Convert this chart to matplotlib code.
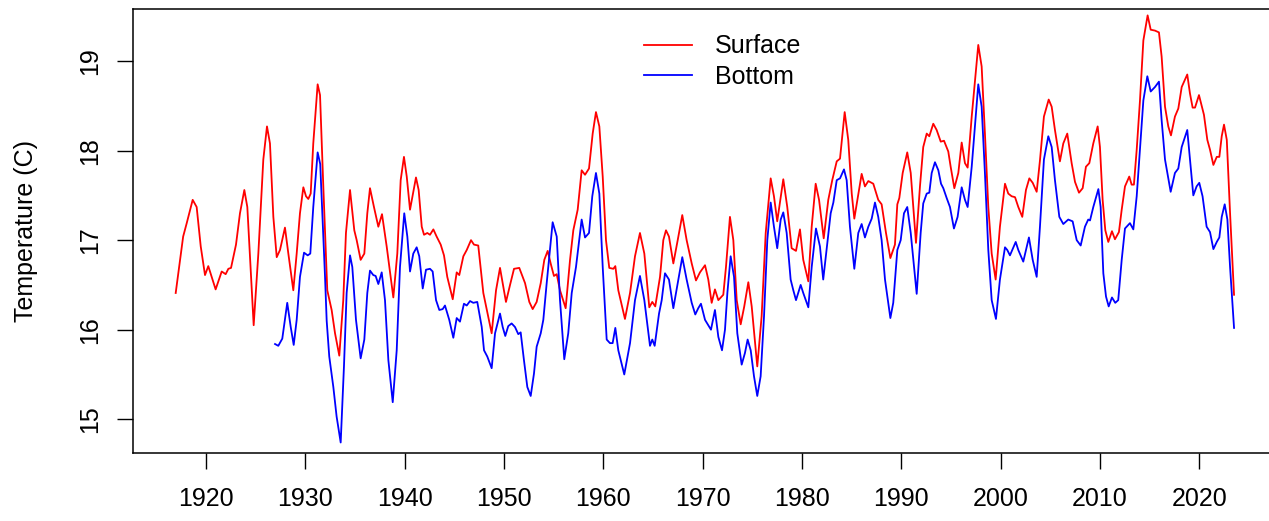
import matplotlib
matplotlib.use("Agg")
from matplotlib import pyplot as plt

# Smoothed water temperature series (deg C)
surface_years = [
    1916.95, 1917.70, 1918.06, 1918.66, 1919.06, 1919.47, 1919.90, 1920.23, 1920.97, 1921.58,
    1921.98, 1922.25, 1922.52, 1923.02, 1923.42, 1923.86, 1924.16, 1924.80, 1925.27, 1925.77,
    1926.14, 1926.44, 1926.78, 1927.12, 1927.45, 1927.95, 1928.29, 1928.79, 1929.13, 1929.46,
    1929.80, 1930.07, 1930.30, 1930.54, 1930.80, 1931.24, 1931.48, 1931.81, 1932.21, 1932.65,
    1932.99, 1933.42, 1933.82, 1934.09, 1934.50, 1934.93, 1935.17, 1935.57, 1935.94, 1936.24,
    1936.51, 1936.91, 1937.35, 1937.72, 1938.19, 1938.86, 1939.26, 1939.60, 1939.93, 1940.21,
    1940.54, 1941.14, 1941.41, 1941.72, 1941.95, 1942.28, 1942.55, 1942.89, 1943.22, 1943.63,
    1943.96, 1944.29, 1944.84, 1945.24, 1945.50, 1945.91, 1946.25, 1946.68, 1946.98, 1947.41,
    1947.92, 1948.76, 1949.20, 1949.60, 1949.87, 1950.20, 1950.61, 1951.01, 1951.54, 1952.12,
    1952.55, 1952.89, 1953.29, 1953.70, 1954.06, 1954.40, 1954.70, 1955.03, 1955.31, 1955.64,
    1956.21, 1956.65, 1956.98, 1957.42, 1957.82, 1958.16, 1958.56, 1958.93, 1959.26, 1959.60,
    1959.94, 1960.27, 1960.60, 1961.01, 1961.21, 1961.51, 1962.18, 1962.69, 1963.19, 1963.69,
    1964.13, 1964.63, 1964.93, 1965.23, 1965.71, 1966.04, 1966.31, 1966.61, 1967.05, 1967.49,
    1967.95, 1968.39, 1968.90, 1969.33, 1969.73, 1970.24, 1970.57, 1970.91, 1971.24, 1971.58,
    1972.08, 1972.35, 1972.75, 1973.09, 1973.43, 1973.83, 1974.19, 1974.60, 1974.94, 1975.50,
    1975.94, 1976.35, 1976.85, 1977.18, 1977.51, 1978.12, 1978.52, 1978.96, 1979.40, 1979.80,
    1980.13, 1980.64, 1980.98, 1981.38, 1981.72, 1982.19, 1982.65, 1983.05, 1983.50, 1983.83,
    1984.30, 1984.66, 1985.01, 1985.27, 1986.01, 1986.34, 1986.68, 1987.18, 1987.68, 1988.02,
    1988.46, 1988.90, 1989.36, 1989.60, 1989.80, 1990.14, 1990.60, 1990.95, 1991.48, 1991.88,
    1992.21, 1992.56, 1992.82, 1993.22, 1993.56, 1993.97, 1994.30, 1994.73, 1994.97, 1995.34,
    1995.74, 1996.08, 1996.41, 1996.68, 1997.09, 1997.75, 1998.09, 1998.42, 1998.76, 1999.10,
    1999.50, 1999.93, 2000.44, 2000.77, 2001.11, 2001.45, 2001.78, 2002.18, 2002.55, 2002.89,
    2003.23, 2003.63, 2003.96, 2004.36, 2004.84, 2005.14, 2005.47, 2005.97, 2006.31, 2006.71,
    2007.15, 2007.49, 2007.89, 2008.26, 2008.59, 2008.93, 2009.33, 2009.77, 2010.00, 2010.27,
    2010.54, 2010.84, 2011.21, 2011.51, 2011.91, 2012.19, 2012.52, 2012.95, 2013.19, 2013.42,
    2013.70, 2014.03, 2014.37, 2014.80, 2015.11, 2015.54, 2015.94, 2016.21, 2016.55, 2016.88,
    2017.15, 2017.55, 2017.89, 2018.23, 2018.79, 2019.06, 2019.33, 2019.57, 2019.97, 2020.47,
    2020.81, 2021.08, 2021.42, 2021.76, 2022.02, 2022.26, 2022.49, 2022.77, 2023.10, 2023.50,
]
surface_temps = [
    16.41, 17.04, 17.19, 17.45, 17.37, 16.93, 16.61, 16.71, 16.45, 16.65,
    16.62, 16.68, 16.69, 16.95, 17.30, 17.56, 17.37, 16.05, 16.85, 17.90,
    18.27, 18.08, 17.26, 16.81, 16.89, 17.14, 16.85, 16.44, 16.85, 17.30,
    17.59, 17.49, 17.46, 17.52, 18.08, 18.74, 18.62, 17.60, 16.44, 16.22,
    15.96, 15.71, 16.33, 17.08, 17.56, 17.11, 17.00, 16.78, 16.85, 17.30,
    17.58, 17.37, 17.15, 17.29, 16.93, 16.36, 16.85, 17.67, 17.93, 17.71,
    17.34, 17.70, 17.56, 17.15, 17.06, 17.08, 17.06, 17.12, 17.04, 16.95,
    16.83, 16.59, 16.34, 16.64, 16.61, 16.82, 16.89, 17.00, 16.95, 16.94,
    16.41, 15.96, 16.44, 16.69, 16.52, 16.31, 16.50, 16.68, 16.69, 16.52,
    16.31, 16.23, 16.31, 16.52, 16.78, 16.88, 16.74, 16.60, 16.62, 16.44,
    16.24, 16.78, 17.11, 17.34, 17.78, 17.73, 17.80, 18.19, 18.43, 18.27,
    17.71, 17.00, 16.69, 16.68, 16.71, 16.44, 16.12, 16.41, 16.82, 17.08,
    16.85, 16.25, 16.31, 16.26, 16.59, 17.00, 17.11, 17.04, 16.74, 17.00,
    17.28, 17.00, 16.74, 16.55, 16.64, 16.72, 16.56, 16.30, 16.45, 16.33,
    16.39, 16.70, 17.26, 17.00, 16.33, 16.06, 16.26, 16.53, 16.26, 15.59,
    16.15, 17.08, 17.69, 17.49, 17.21, 17.68, 17.37, 16.91, 16.88, 17.12,
    16.78, 16.54, 17.15, 17.63, 17.45, 17.02, 17.45, 17.67, 17.88, 17.91,
    18.43, 18.12, 17.52, 17.24, 17.74, 17.60, 17.66, 17.63, 17.45, 17.40,
    17.08, 16.80, 16.95, 17.40, 17.47, 17.75, 17.98, 17.75, 16.97, 17.60,
    18.04, 18.19, 18.16, 18.30, 18.23, 18.10, 18.11, 17.99, 17.82, 17.58,
    17.75, 18.09, 17.86, 17.81, 18.38, 19.18, 18.94, 18.19, 17.37, 16.85,
    16.56, 17.15, 17.63, 17.52, 17.49, 17.48, 17.37, 17.26, 17.56, 17.69,
    17.64, 17.54, 17.89, 18.38, 18.57, 18.49, 18.23, 17.88, 18.08, 18.19,
    17.86, 17.65, 17.53, 17.58, 17.82, 17.86, 18.08, 18.27, 18.04, 17.45,
    17.11, 16.98, 17.10, 17.01, 17.09, 17.34, 17.60, 17.71, 17.62, 17.62,
    18.01, 18.56, 19.23, 19.51, 19.35, 19.34, 19.32, 19.05, 18.49, 18.27,
    18.17, 18.38, 18.47, 18.71, 18.85, 18.64, 18.48, 18.48, 18.62, 18.40,
    18.12, 18.01, 17.84, 17.93, 17.93, 18.16, 18.29, 18.12, 17.30, 16.39,
]

bottom_years = [
    1926.95, 1927.28, 1927.68, 1928.18, 1928.53, 1928.83, 1929.13, 1929.46, 1929.87, 1930.24,
    1930.50, 1930.80, 1931.24, 1931.50, 1931.98, 1932.15, 1932.41, 1932.82, 1933.15, 1933.56,
    1933.89, 1934.16, 1934.50, 1934.73, 1935.10, 1935.57, 1935.94, 1936.24, 1936.51, 1936.84,
    1937.08, 1937.35, 1937.69, 1938.02, 1938.36, 1938.80, 1939.20, 1939.53, 1939.96, 1940.27,
    1940.54, 1940.87, 1941.21, 1941.47, 1941.82, 1942.15, 1942.55, 1942.82, 1943.16, 1943.49,
    1943.83, 1944.06, 1944.49, 1944.90, 1945.24, 1945.57, 1945.97, 1946.25, 1946.58, 1946.91,
    1947.31, 1947.76, 1947.99, 1948.32, 1948.76, 1949.10, 1949.60, 1949.87, 1950.13, 1950.43,
    1950.77, 1951.11, 1951.44, 1951.68, 1952.01, 1952.35, 1952.69, 1953.02, 1953.29, 1953.70,
    1953.96, 1954.30, 1954.90, 1955.31, 1955.64, 1956.07, 1956.47, 1956.82, 1957.25, 1957.82,
    1958.16, 1958.56, 1958.89, 1959.26, 1959.60, 1959.94, 1960.34, 1960.67, 1960.94, 1961.21,
    1961.51, 1962.11, 1962.69, 1963.19, 1963.69, 1964.13, 1964.70, 1964.93, 1965.17, 1965.61,
    1965.88, 1966.21, 1966.61, 1967.05, 1967.49, 1967.95, 1968.39, 1968.90, 1969.26, 1969.56,
    1969.83, 1970.24, 1970.84, 1971.24, 1971.58, 1971.95, 1972.25, 1972.49, 1972.82, 1973.16,
    1973.49, 1973.93, 1974.26, 1974.53, 1974.84, 1975.17, 1975.50, 1975.84, 1976.18, 1976.51,
    1976.85, 1977.18, 1977.51, 1977.86, 1978.12, 1978.46, 1978.86, 1979.13, 1979.40, 1979.87,
    1980.13, 1980.64, 1980.98, 1981.41, 1981.81, 1982.14, 1982.55, 1982.89, 1983.16, 1983.50,
    1983.83, 1984.23, 1984.50, 1984.83, 1985.27, 1985.67, 1986.01, 1986.34, 1986.68, 1987.02,
    1987.35, 1987.68, 1988.02, 1988.36, 1988.90, 1989.19, 1989.60, 1989.94, 1990.27, 1990.60,
    1990.95, 1991.55, 1991.95, 1992.21, 1992.56, 1992.82, 1993.06, 1993.39, 1993.73, 1994.00,
    1994.23, 1994.57, 1994.90, 1995.30, 1995.67, 1996.08, 1996.41, 1996.68, 1997.09, 1997.75,
    1998.09, 1998.42, 1998.76, 1999.10, 1999.53, 1999.93, 2000.44, 2000.67, 2000.94, 2001.52,
    2001.78, 2002.28, 2002.85, 2003.23, 2003.63, 2003.96, 2004.36, 2004.80, 2005.14, 2005.47,
    2005.91, 2006.31, 2006.81, 2007.25, 2007.66, 2008.06, 2008.49, 2008.82, 2009.00, 2009.33,
    2009.84, 2010.07, 2010.34, 2010.61, 2010.88, 2011.21, 2011.54, 2011.84, 2012.19, 2012.52,
    2013.02, 2013.36, 2013.70, 2014.03, 2014.37, 2014.77, 2015.11, 2015.54, 2015.94, 2016.21,
    2016.55, 2017.12, 2017.55, 2017.89, 2018.23, 2018.79, 2019.13, 2019.40, 2019.73, 2020.00,
    2020.33, 2020.74, 2021.08, 2021.42, 2021.76, 2022.02, 2022.26, 2022.56, 2022.83, 2023.10,
    2023.50,
]
bottom_temps = [
    15.84, 15.82, 15.90, 16.30, 16.03, 15.83, 16.11, 16.59, 16.86, 16.83,
    16.85, 17.37, 17.98, 17.85, 16.60, 16.10, 15.70, 15.36, 15.03, 14.74,
    15.59, 16.41, 16.83, 16.70, 16.11, 15.68, 15.89, 16.41, 16.66, 16.61,
    16.60, 16.51, 16.64, 16.33, 15.66, 15.19, 15.77, 16.70, 17.30, 17.04,
    16.65, 16.85, 16.92, 16.82, 16.46, 16.67, 16.68, 16.65, 16.33, 16.22,
    16.23, 16.27, 16.11, 15.91, 16.13, 16.09, 16.29, 16.27, 16.32, 16.30,
    16.31, 16.03, 15.77, 15.70, 15.57, 15.96, 16.18, 16.03, 15.93, 16.04,
    16.07, 16.03, 15.95, 15.97, 15.66, 15.36, 15.26, 15.51, 15.81, 15.96,
    16.11, 16.52, 17.20, 17.04, 16.33, 15.67, 15.96, 16.41, 16.70, 17.23,
    17.03, 17.08, 17.49, 17.75, 17.52, 16.70, 15.89, 15.85, 15.85, 16.02,
    15.77, 15.50, 15.85, 16.33, 16.60, 16.33, 15.82, 15.89, 15.82, 16.18,
    16.33, 16.63, 16.56, 16.24, 16.52, 16.81, 16.56, 16.30, 16.17, 16.24,
    16.29, 16.11, 16.00, 16.22, 15.92, 15.77, 16.00, 16.41, 16.82, 16.59,
    15.96, 15.61, 15.74, 15.89, 15.77, 15.48, 15.26, 15.48, 16.15, 17.00,
    17.42, 17.15, 16.91, 17.23, 17.31, 17.08, 16.56, 16.44, 16.33, 16.50,
    16.41, 16.25, 16.70, 17.13, 16.93, 16.56, 16.97, 17.30, 17.42, 17.67,
    17.69, 17.79, 17.67, 17.15, 16.68, 17.08, 17.18, 17.03, 17.15, 17.24,
    17.42, 17.26, 17.00, 16.56, 16.13, 16.30, 16.89, 17.00, 17.30, 17.37,
    17.08, 16.40, 17.08, 17.41, 17.52, 17.53, 17.75, 17.87, 17.78, 17.63,
    17.58, 17.47, 17.37, 17.13, 17.26, 17.59, 17.45, 17.37, 17.82, 18.74,
    18.49, 17.75, 16.89, 16.33, 16.12, 16.56, 16.92, 16.89, 16.83, 16.98,
    16.89, 16.76, 17.03, 16.78, 16.59, 17.15, 17.90, 18.16, 18.04, 17.67,
    17.26, 17.18, 17.23, 17.21, 17.00, 16.94, 17.15, 17.23, 17.22, 17.37,
    17.57, 17.37, 16.63, 16.37, 16.26, 16.36, 16.30, 16.33, 16.78, 17.13,
    17.19, 17.12, 17.49, 18.01, 18.56, 18.83, 18.66, 18.71, 18.77, 18.34,
    17.90, 17.54, 17.75, 17.80, 18.04, 18.23, 17.82, 17.50, 17.60, 17.64,
    17.49, 17.15, 17.09, 16.90, 16.98, 17.03, 17.26, 17.40, 17.23, 16.70,
    16.02,
]

year_ticks = [1920, 1930, 1940, 1950, 1960, 1970, 1980, 1990, 2000, 2010, 2020]
temp_ticks = [15, 16, 17, 18, 19]

plt.rcParams['font.family'] = ['Liberation Sans', 'DejaVu Sans']

fig = plt.figure(figsize=(12.69, 5.21), dpi=100)
ax = fig.add_axes([0.1048, 0.130, 0.9017, 0.852])

ax.plot(surface_years, surface_temps, color='#ff0000', lw=1.3, label='Surface')
ax.plot(bottom_years, bottom_temps, color='#0000ff', lw=1.3, label='Bottom')

ax.set_xlim(1912.65, 2027.85)
ax.set_ylim(14.62, 19.577)

ax.set_xticks(year_ticks)
ax.set_yticks(temp_ticks)
ax.tick_params(axis='both', direction='out', length=11.5, width=1.0,
               labelsize=18, color='black')
ax.tick_params(axis='x', pad=12.5)
ax.tick_params(axis='y', pad=10.6)
for lbl in ax.get_yticklabels():
    lbl.set_rotation(90)
    lbl.set_va('center')

for side in ax.spines.values():
    side.set_linewidth(1.1)

# y label placed R-style, well outside the tick labels
ax.set_ylabel('Temperature (C)', fontsize=18)
ax.yaxis.set_label_coords(-0.0826, 0.5)

ax.legend(loc='center left', bbox_to_anchor=(0.5077, 0.882),
          bbox_transform=fig.transFigure, frameon=False, fontsize=18,
          handlelength=1.9, handletextpad=0.93, labelspacing=0.25,
          borderpad=0, borderaxespad=0)

fig.savefig('out.png', dpi=100)
